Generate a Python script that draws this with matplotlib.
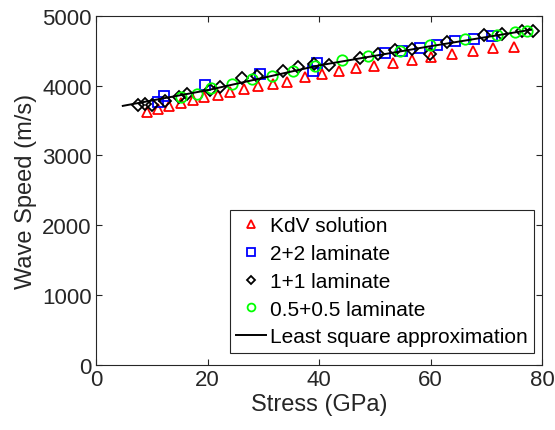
import numpy as np
import matplotlib
matplotlib.use("Agg")
import matplotlib.pyplot as plt

plt.rcParams['font.family'] = ['Liberation Sans', 'DejaVu Sans']

# KdV solution
kdv_x = [9.2, 11.1, 13.1, 15.2, 17.3, 19.4, 21.8, 24.1, 26.5, 29.1, 31.7, 34.2,
         37.5, 40.5, 43.6, 46.6, 49.9, 53.3, 56.7, 60.1, 63.9, 67.5, 71.2, 75.0]
kdv_y = [3620, 3668, 3706, 3754, 3797, 3835, 3872, 3907, 3954, 3993, 4026, 4059,
         4122, 4169, 4216, 4251, 4288, 4322, 4370, 4408, 4451, 4494, 4537, 4560]

# 2+2 laminate
lam22_x = [11.2, 12.1, 19.6, 29.4, 38.9, 39.6, 51.8, 54.8, 58.1, 61.1, 64.4, 67.7, 71.0]
lam22_y = [3764, 3850, 4005, 4169, 4216, 4330, 4470, 4489, 4537, 4575, 4638, 4670, 4717]

# 1+1 laminate
lam11_x = [7.6, 8.8, 10.0, 12.4, 14.8, 16.3, 20.4, 22.2, 26.1, 28.8, 33.6, 36.3,
           39.0, 41.7, 47.4, 50.5, 53.6, 56.6, 59.9, 62.9, 69.5, 72.8, 76.4, 78.4]
lam11_y = [3725, 3739, 3725, 3786, 3835, 3882, 3944, 3978, 4107, 4136, 4216, 4264,
           4312, 4302, 4394, 4456, 4517, 4527, 4456, 4623, 4728, 4742, 4789, 4781]

# 0.5+0.5 laminate
lam05_x = [15.2, 18.1, 20.7, 24.3, 27.9, 31.5, 35.4, 39.3, 44.1, 48.8, 54.5,
           59.9, 66.2, 71.9, 75.2, 77.3]
lam05_y = [3835, 3882, 3964, 4026, 4097, 4145, 4216, 4288, 4360, 4431, 4503,
           4575, 4670, 4728, 4775, 4789]

# least square approximation
fit_x = [4.8, 20, 40, 60, 78]
fit_y = [3710, 3935, 4290, 4565, 4800]

fig = plt.figure(figsize=(5.55, 4.31), dpi=100)
ax = fig.add_axes([0.173, 0.151, 0.804, 0.810])

ax.plot(kdv_x, kdv_y, '^', mfc='none', mec='red', ms=7.5, mew=1.3, ls='none', label='KdV solution')
ax.plot(lam22_x, lam22_y, 's', mfc='none', mec='blue', ms=7, mew=1.3, ls='none', label='2+2 laminate')
ax.plot(lam11_x, lam11_y, 'D', mfc='none', mec='black', ms=6, mew=1.3, ls='none', label='1+1 laminate')
ax.plot(lam05_x, lam05_y, 'o', mfc='none', mec='#00ff00', ms=7.5, mew=1.3, ls='none', label='0.5+0.5 laminate')
ax.plot(fit_x, fit_y, '-', color='black', lw=1.4, label='Least square approximation')

ax.set_xlim(0, 80)
ax.set_ylim(0, 5000)
ax.set_xticks([0, 20, 40, 60, 80])
ax.set_yticks([0, 1000, 2000, 3000, 4000, 5000])
ax.tick_params(direction='in', top=True, right=True, length=4, width=0.8,
               labelsize=16, colors='#262626', pad=3)
for s in ax.spines.values():
    s.set_color('#262626')
    s.set_linewidth(0.8)
ax.set_xlabel('Stress (GPa)', fontsize=17, color='#262626', labelpad=2)
ax.set_ylabel('Wave Speed (m/s)', fontsize=17, color='#262626', labelpad=4)

leg = ax.legend(loc='lower right', bbox_to_anchor=(0.982, 0.035), fontsize=15,
                frameon=True, fancybox=False, framealpha=1, edgecolor='#262626',
                handlelength=1.45, handletextpad=0.2, labelspacing=0.42,
                borderpad=0.3, borderaxespad=0, markerscale=0.75)
leg.get_frame().set_linewidth(0.8)

fig.savefig('out.png', dpi=100)
